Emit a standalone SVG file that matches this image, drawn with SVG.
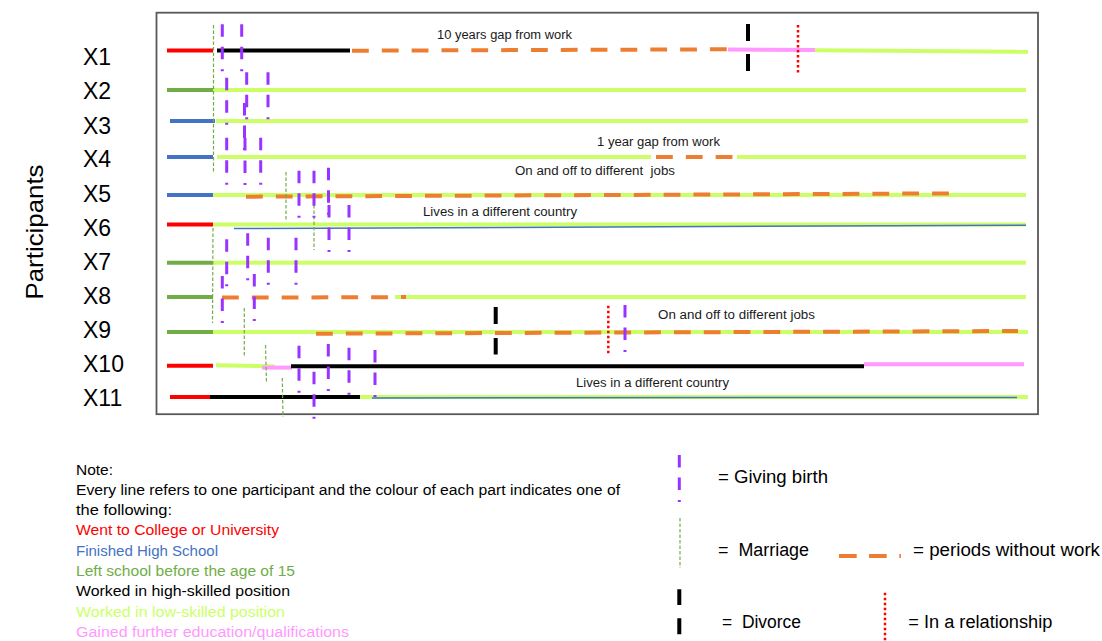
<svg xmlns="http://www.w3.org/2000/svg" xmlns:xlink="http://www.w3.org/1999/xlink" width="1102" height="641" viewBox="0 0 1102 641">
<style>
.t{font-family:"Liberation Sans",Arial,sans-serif;fill:#000}
.lbl{font-size:23px}
.note{font-size:12px;fill:#1a1a1a}
.leg{font-size:15.5px}
.legr{font-size:18px}
.s{fill:none;stroke-width:4}
.red{stroke:#FF0000}.blue{stroke:#4472C4}.green{stroke:#70AD47}.blk{stroke:#000}.yg{stroke:#CCFF66}.pink{stroke:#FF99FF}
.gap{fill:none;stroke:#ED7D31;stroke-width:4;stroke-dasharray:16.8 13.03}
.thin{fill:none;stroke:#4472C4;stroke-width:1.5}
.mar{fill:none;stroke:#70AD47;stroke-width:1.2;stroke-dasharray:3.5 2}
.rel{fill:none;stroke:#FF0000;stroke-width:2.5;stroke-dasharray:2.5 2.5}
.div{fill:none;stroke:#000;stroke-width:4}
</style>
<defs>
<path id="b" d="M0,0v12.5M0,22.5v12.5M0,45v2" fill="none" stroke="#9933FF" stroke-width="3"/>
</defs>
<rect width="1102" height="641" fill="#fff"/>
<rect x="156.5" y="12.7" width="881.5" height="401.5" fill="none" stroke="#595959" stroke-width="1.8"/>
<text class="t" font-size="24" transform="translate(43,232) rotate(-90)" text-anchor="middle" textLength="135" lengthAdjust="spacingAndGlyphs">Participants</text>

<g id="connectors">
<g id="row-X1">
<text class="t lbl" x="83" y="65">X1</text>
<line class="s red" x1="167" y1="50.5" x2="213" y2="50.5"/>
<line class="s blk" x1="217" y1="50.5" x2="350" y2="50.5"/>
<line class="gap" x1="352" y1="50.7" x2="729" y2="49.3"/>
<line class="s pink" x1="728" y1="49.5" x2="815" y2="50"/>
<line class="s yg" x1="815" y1="50.2" x2="1028" y2="51.8"/>
<text class="t note" x="437" y="39" textLength="135" lengthAdjust="spacingAndGlyphs">10 years gap from work</text>
</g>
<g id="row-X2">
<text class="t lbl" x="83" y="99">X2</text>
<line class="s green" x1="167" y1="90" x2="213" y2="90"/>
<line class="s yg" x1="213" y1="90" x2="1026" y2="90"/>
</g>
<g id="row-X3">
<text class="t lbl" x="83" y="134">X3</text>
<line class="s blue" x1="170" y1="121" x2="215" y2="121"/>
<line class="s yg" x1="216" y1="121" x2="1028" y2="121"/>
</g>
<g id="row-X4">
<text class="t lbl" x="83" y="167">X4</text>
<line class="s blue" x1="167" y1="157" x2="213" y2="157"/>
<line class="s yg" x1="217" y1="157" x2="651" y2="157"/>
<line class="gap" x1="656" y1="157" x2="734" y2="157"/>
<line class="s yg" x1="737" y1="157" x2="1026" y2="157"/>
<text class="t note" x="597" y="146" textLength="123" lengthAdjust="spacingAndGlyphs">1 year gap from work</text>
</g>
<g id="row-X5">
<text class="t lbl" x="83" y="202">X5</text>
<line class="s blue" x1="167" y1="195" x2="213" y2="195"/>
<line class="s yg" x1="213" y1="195" x2="1026" y2="195"/>
<line class="gap" x1="246" y1="196.7" x2="950" y2="193.4"/>
<text class="t note" x="515" y="175" xml:space="preserve" textLength="160" lengthAdjust="spacingAndGlyphs">On and off to different  jobs</text>
</g>
<g id="row-X6">
<text class="t lbl" x="83" y="236">X6</text>
<line class="s red" x1="167" y1="224.5" x2="213" y2="224.5"/>
<line class="s yg" x1="213" y1="224.5" x2="1026" y2="224.5"/>
<line class="thin" x1="234" y1="228.5" x2="1026" y2="225.3"/>
<text class="t note" x="423" y="216" textLength="154" lengthAdjust="spacingAndGlyphs">Lives in a different country</text>
</g>
<g id="row-X7">
<text class="t lbl" x="83" y="270">X7</text>
<line class="s green" x1="167" y1="262.7" x2="213" y2="262.7"/>
<line class="s yg" x1="213" y1="262.7" x2="1026" y2="262.7"/>
</g>
<g id="row-X8">
<text class="t lbl" x="83" y="304">X8</text>
<line class="s green" x1="167" y1="297" x2="213" y2="297"/>
<line class="gap" x1="222" y1="297.6" x2="390" y2="297.2"/>
<line class="s yg" x1="395" y1="297" x2="1026" y2="297"/>
<line class="s" stroke="#ED7D31" x1="401" y1="297" x2="406" y2="297"/>
</g>
<g id="row-X9">
<text class="t lbl" x="83" y="338">X9</text>
<line class="s green" x1="167" y1="332" x2="213" y2="332"/>
<line class="s yg" x1="213" y1="332" x2="1028" y2="332"/>
<line class="gap" x1="316" y1="333.7" x2="1018" y2="331"/>
<text class="t note" x="658" y="319" textLength="157" lengthAdjust="spacingAndGlyphs">On and off to different jobs</text>
</g>
<g id="row-X10">
<text class="t lbl" x="83" y="372">X10</text>
<line class="s red" x1="167" y1="365.7" x2="213" y2="365.7"/>
<line class="s yg" x1="216" y1="365.3" x2="275" y2="366.5"/>
<line class="s pink" x1="262" y1="367.6" x2="292" y2="367.6"/>
<line class="s blk" x1="291" y1="366.3" x2="864" y2="366.3" stroke-width="4.5"/>
<line class="s pink" x1="864" y1="364.3" x2="1024" y2="364.3"/>
</g>
<g id="row-X11">
<text class="t lbl" x="83" y="406">X11</text>
<line class="s red" x1="170" y1="397" x2="210" y2="397"/>
<line class="s blk" x1="210" y1="397" x2="360" y2="397"/>
<line class="s yg" x1="360" y1="397" x2="1028" y2="397"/>
<line class="thin" x1="372" y1="397.9" x2="1017" y2="397.4"/>
<text class="t note" x="576" y="387" textLength="153" lengthAdjust="spacingAndGlyphs">Lives in a different country</text>
</g>
</g>

<g id="events">
<line class="mar" x1="213.5" y1="25" x2="213.5" y2="172"/>
<line class="mar" x1="286" y1="172" x2="286" y2="220"/>
<line class="mar" x1="314" y1="205" x2="314" y2="250"/>
<line class="mar" x1="213" y1="228" x2="212.5" y2="323"/>
<line class="mar" x1="244.3" y1="308" x2="244.3" y2="357"/>
<line class="mar" x1="265.5" y1="345" x2="266.5" y2="383"/>
<line class="mar" x1="282.3" y1="378" x2="283" y2="417"/>
<use xlink:href="#b" x="222.3" y="24.3"/>
<use xlink:href="#b" x="241.7" y="24.3"/>
<use xlink:href="#b" x="226.7" y="77.7"/>
<use xlink:href="#b" x="246.7" y="72.3"/>
<use xlink:href="#b" x="268" y="72.3"/>
<use xlink:href="#b" x="244.5" y="103"/>
<use xlink:href="#b" x="226.7" y="137.7"/>
<use xlink:href="#b" x="245" y="138"/>
<use xlink:href="#b" x="260.7" y="137.7"/>
<use xlink:href="#b" x="299" y="170.7"/>
<use xlink:href="#b" x="314" y="170.7"/>
<use xlink:href="#b" x="328.5" y="167.7"/>
<use xlink:href="#b" x="329" y="205"/>
<use xlink:href="#b" x="349" y="205"/>
<use xlink:href="#b" x="226.7" y="239.3"/>
<use xlink:href="#b" x="247.7" y="233.3"/>
<use xlink:href="#b" x="268.3" y="237.7"/>
<use xlink:href="#b" x="296" y="237.7"/>
<use xlink:href="#b" x="222.3" y="276"/>
<use xlink:href="#b" x="254.3" y="274"/>
<use xlink:href="#b" x="625" y="305"/>
<use xlink:href="#b" x="299" y="345.7"/>
<use xlink:href="#b" x="314" y="371.7"/>
<use xlink:href="#b" x="328.3" y="344"/>
<use xlink:href="#b" x="349" y="347.7"/>
<use xlink:href="#b" x="375" y="350"/>
<path class="div" d="M748,24v17M748,54v17"/>
<path class="div" d="M495.7,307v17M495.7,338v16.5"/>
<line class="rel" x1="798" y1="25" x2="798" y2="73"/>
<line class="rel" x1="608.3" y1="305.7" x2="608.3" y2="354"/>
</g>

<g id="legend">
<text class="t leg" x="76" y="474.5">Note:</text>
<text class="t leg" x="76" y="494.8" textLength="544" lengthAdjust="spacingAndGlyphs">Every line refers to one participant and the colour of each part indicates one of</text>
<text class="t leg" x="76" y="515.1" textLength="96" lengthAdjust="spacingAndGlyphs">the following:</text>
<text class="t leg" x="76" y="535.4" style="fill:#FF0000" textLength="203" lengthAdjust="spacingAndGlyphs">Went to College or University</text>
<text class="t leg" x="76" y="555.7" style="fill:#4472C4" textLength="142" lengthAdjust="spacingAndGlyphs">Finished High School</text>
<text class="t leg" x="76" y="576" style="fill:#70AD47" textLength="219" lengthAdjust="spacingAndGlyphs">Left school before the age of 15</text>
<text class="t leg" x="76" y="596.3" textLength="214" lengthAdjust="spacingAndGlyphs">Worked in high-skilled position</text>
<text class="t leg" x="76" y="616.6" style="fill:#CCFF66" textLength="209" lengthAdjust="spacingAndGlyphs">Worked in low-skilled position</text>
<text class="t leg" x="76" y="636.9" style="fill:#FF99FF" textLength="273" lengthAdjust="spacingAndGlyphs">Gained further education/qualifications</text>

<use xlink:href="#b" x="679.3" y="455"/>
<text class="t legr" x="718" y="483" textLength="110" lengthAdjust="spacingAndGlyphs">= Giving birth</text>
<line class="mar" x1="680" y1="518" x2="680" y2="568"/>
<text class="t legr" x="718" y="556" xml:space="preserve" textLength="91" lengthAdjust="spacingAndGlyphs">=  Marriage</text>
<path d="M839,556h17.7M869,556h17.7M899.3,556h1.6" fill="none" stroke="#ED7D31" stroke-width="4"/>
<text class="t legr" x="913" y="556" textLength="187" lengthAdjust="spacingAndGlyphs">= periods without work</text>
<path class="div" d="M679.3,589.3v15.7M679.3,618.3v16"/>
<text class="t legr" x="722" y="627.5" xml:space="preserve" textLength="79" lengthAdjust="spacingAndGlyphs">=  Divorce</text>
<line class="rel" x1="885" y1="592.7" x2="885" y2="641"/>
<text class="t legr" x="908.3" y="627.5" textLength="144" lengthAdjust="spacingAndGlyphs">= In a relationship</text>
</g>
</svg>
